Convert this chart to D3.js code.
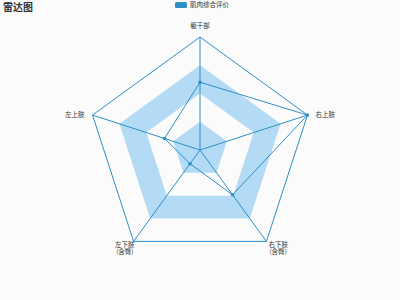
<!DOCTYPE html>
<meta charset="utf-8">
<script src="https://d3js.org/d3.v7.min.js"></script>
<style>
  body { margin: 0; background: #fbfbfb; }
  text { font-family: "Noto Sans CJK SC", sans-serif; }
</style>
<div id="chart"></div>
<script>
    // 指标 (逆时针, 从顶部开始) 与数值
    const indicators = ["躯干部", "左上肢", "左下肢\n(含臀)", "右下肢\n(含臀)", "右上肢"];
    const values = [60, 33, 15, 49, 100];
    const maxValue = 100;
    const splitLevels = [0, 25, 50, 75, 100];
    const seriesName = "肌肉综合评价";

    const width = 400, height = 300;
    const cx = 200, cy = 150, radius = 113;
    const color = "#2f90c6";

    const svg = d3.select("#chart")
        .append("svg")
        .attr("width", width)
        .attr("height", height)
        .style("background", "#fbfbfb");

    const r = d3.scaleLinear().domain([0, maxValue]).range([0, radius]);
    const angle = d3.scaleLinear()
        .domain([0, indicators.length])
        .range([-Math.PI / 2, -Math.PI / 2 - 2 * Math.PI]);

    const point = (i, v) => [cx + r(v) * Math.cos(angle(i)), cy + r(v) * Math.sin(angle(i))];
    const ring = v => indicators.map((d, i) => point(i, v));

    // split areas: 0-25 和 50-75 填色
    for (let k = 0; k < splitLevels.length - 1; k++) {
        if (k % 2 === 1) continue;
        const outer = ring(splitLevels[k + 1]);
        const inner = ring(splitLevels[k]).reverse();
        const path = "M" + outer.join("L") + "Z" + (splitLevels[k] > 0 ? "M" + inner.join("L") + "Z" : "");
        svg.append("path")
            .attr("d", path)
            .attr("fill", "#b3dbf5")
            .attr("fill-rule", "evenodd");
    }

    // 外圈
    svg.append("path")
        .attr("d", "M" + ring(maxValue).join("L") + "Z")
        .attr("fill", "none")
        .attr("stroke", color)
        .attr("stroke-width", 1);

    // 轴线
    svg.selectAll("line.axis")
        .data(indicators)
        .join("line")
        .attr("class", "axis")
        .attr("x1", cx).attr("y1", cy)
        .attr("x2", (d, i) => point(i, maxValue)[0])
        .attr("y2", (d, i) => point(i, maxValue)[1])
        .attr("stroke", color)
        .attr("stroke-width", 1);

    // 指标名称
    indicators.forEach((name, i) => {
        const [x, y] = point(i, maxValue);
        const cos = Math.cos(angle(i)), sin = Math.sin(angle(i));
        const lines = name.split("\n");
        let anchor = "middle", tx = x, ty = y;
        if (Math.abs(cos) < 0.01) { ty = sin < 0 ? y - 11 : y + 8; }
        else if (cos < 0) { anchor = "end"; tx = x - 8; }
        else { anchor = "start"; tx = x + 8; }
        if (sin > 0.5) { ty = y + 3; tx = cos < 0 ? x + 1 : x + 2; }
        const t = svg.append("text")
            .attr("x", tx)
            .attr("y", ty)
            .attr("text-anchor", anchor)
            .attr("font-size", 6.5)
            .attr("fill", "#333");
        lines.forEach((s, j) => {
            t.append("tspan")
                .attr("x", tx - (j > 0 ? (anchor === "end" ? 1 : -1) : 0))
                .attr("dy", j === 0 ? "0.35em" : "1.2em")
                .text(s);
        });
    });

    // 数据多边形
    const pts = values.map((v, i) => point(i, v));
    svg.append("path")
        .attr("d", "M" + pts.join("L") + "Z")
        .attr("fill", "none")
        .attr("stroke", color)
        .attr("stroke-width", 1);

    svg.selectAll("circle.pt")
        .data(pts)
        .join("circle")
        .attr("class", "pt")
        .attr("cx", d => d[0])
        .attr("cy", d => d[1])
        .attr("r", 1.8)
        .attr("fill", color);

    // 标题
    svg.append("text")
        .attr("x", 3)
        .attr("y", 11)
        .attr("font-size", 10)
        .attr("font-weight", "bold")
        .attr("fill", "#333")
        .text("雷达图");

    // 图例
    svg.append("rect")
        .attr("x", 175).attr("y", 2)
        .attr("width", 12).attr("height", 6)
        .attr("rx", 1.5)
        .attr("fill", color);
    svg.append("text")
        .attr("x", 190).attr("y", 5)
        .attr("dy", "0.35em")
        .attr("font-size", 6.5)
        .attr("fill", "#333")
        .text(seriesName);
</script>
